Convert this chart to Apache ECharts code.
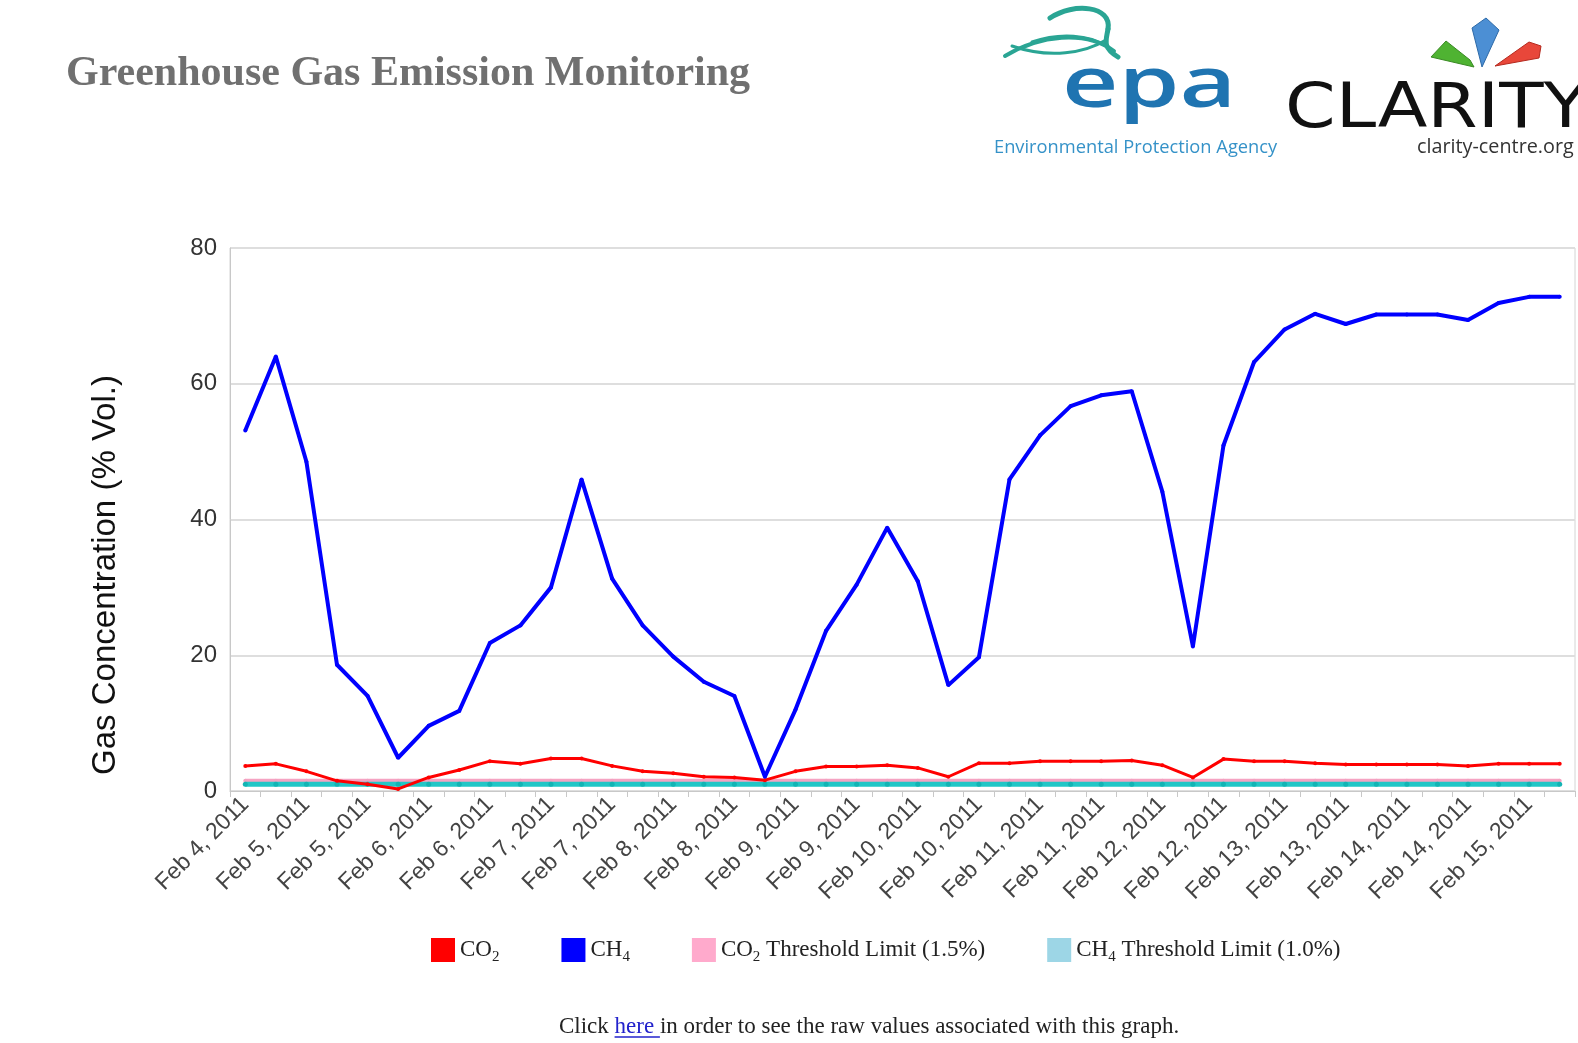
<!DOCTYPE html>
<html>
<head>
<meta charset="utf-8">
<script src="https://cdn.jsdelivr.net/npm/echarts@6/dist/echarts.min.js"></script>
<style>
html,body{margin:0;padding:0;background:#fff;}
#chart{width:1578px;height:1043px;}
</style>
</head>
<body>
<div id="chart"></div>
<script>
// ---- data ----
const categories = [
  'Feb 4, 2011 18:00','Feb 5, 2011 00:00','Feb 5, 2011 06:00','Feb 5, 2011 12:00','Feb 5, 2011 18:00',
  'Feb 6, 2011 00:00','Feb 6, 2011 06:00','Feb 6, 2011 12:00','Feb 6, 2011 18:00',
  'Feb 7, 2011 00:00','Feb 7, 2011 06:00','Feb 7, 2011 12:00','Feb 7, 2011 18:00',
  'Feb 8, 2011 00:00','Feb 8, 2011 06:00','Feb 8, 2011 12:00','Feb 8, 2011 18:00',
  'Feb 9, 2011 00:00','Feb 9, 2011 06:00','Feb 9, 2011 12:00','Feb 9, 2011 18:00',
  'Feb 10, 2011 00:00','Feb 10, 2011 06:00','Feb 10, 2011 12:00','Feb 10, 2011 18:00',
  'Feb 11, 2011 00:00','Feb 11, 2011 06:00','Feb 11, 2011 12:00','Feb 11, 2011 18:00',
  'Feb 12, 2011 00:00','Feb 12, 2011 06:00','Feb 12, 2011 12:00','Feb 12, 2011 18:00',
  'Feb 13, 2011 00:00','Feb 13, 2011 06:00','Feb 13, 2011 12:00','Feb 13, 2011 18:00',
  'Feb 14, 2011 00:00','Feb 14, 2011 06:00','Feb 14, 2011 12:00','Feb 14, 2011 18:00',
  'Feb 15, 2011 00:00','Feb 15, 2011 06:00','Feb 15, 2011 12:00'
];
const co2Values = [3.7,4.0,2.9,1.5,1.0,0.3,2.0,3.1,4.4,4.0,4.8,4.8,3.7,2.9,2.6,2.1,2.0,1.6,2.9,3.6,3.6,3.8,3.4,2.1,4.1,4.1,4.4,4.4,4.4,4.5,3.8,2.0,4.7,4.4,4.4,4.1,3.9,3.9,3.9,3.9,3.7,4.0,4.0,4.0];
const ch4Values = [53.1,64.0,48.5,18.6,14.0,4.9,9.6,11.8,21.8,24.4,30.0,45.9,31.3,24.4,19.8,16.1,14.0,2.1,12.0,23.6,30.4,38.8,30.9,15.6,19.7,45.9,52.4,56.7,58.3,58.9,44.1,21.3,50.9,63.2,68.0,70.3,68.8,70.2,70.2,70.2,69.4,71.9,72.8,72.8];
const co2Threshold = [1.5,1.5,1.5,1.5,1.5,1.5,1.5,1.5,1.5,1.5,1.5,1.5,1.5,1.5,1.5,1.5,1.5,1.5,1.5,1.5,1.5,1.5,1.5,1.5,1.5,1.5,1.5,1.5,1.5,1.5,1.5,1.5,1.5,1.5,1.5,1.5,1.5,1.5,1.5,1.5,1.5,1.5,1.5,1.5];
const ch4Threshold = [1.0,1.0,1.0,1.0,1.0,1.0,1.0,1.0,1.0,1.0,1.0,1.0,1.0,1.0,1.0,1.0,1.0,1.0,1.0,1.0,1.0,1.0,1.0,1.0,1.0,1.0,1.0,1.0,1.0,1.0,1.0,1.0,1.0,1.0,1.0,1.0,1.0,1.0,1.0,1.0,1.0,1.0,1.0,1.0];
const yTicks = {min: 0, max: 80, interval: 20};
const seriesNames = ['CO2', 'CH4', 'CO2 Threshold Limit (1.5%)', 'CH4 Threshold Limit (1.0%)'];
const legendLabels = {
  'CO2': '{n|CO}{s|2}',
  'CH4': '{n|CH}{s|4}',
  'CO2 Threshold Limit (1.5%)': '{n|CO}{s|2}{n| Threshold Limit (1.5%)}',
  'CH4 Threshold Limit (1.0%)': '{n|CH}{s|4}{n| Threshold Limit (1.0%)}'
};

// footer underline measurement
const mctx = document.createElement('canvas').getContext('2d');
mctx.font = '23px "Liberation Serif"';
const footX = 559;
const wClick = mctx.measureText('Click ').width;
const wHere = mctx.measureText('here ').width;

function curve(x1, y1, c1x, c1y, c2x, c2y, x2, y2, w) {
  return {type: 'bezierCurve',
    shape: {x1: x1, y1: y1, cpx1: c1x, cpy1: c1y, cpx2: c2x, cpy2: c2y, x2: x2, y2: y2},
    style: {stroke: '#2aa594', lineWidth: w, fill: null, lineCap: 'round'}};
}

const chart = echarts.init(document.getElementById('chart'), null, {renderer: 'canvas'});
const option = {
  animation: false,
  backgroundColor: '#ffffff',
  grid: {left: 230, right: 3, top: 248, bottom: 252, show: true, borderColor: '#d4d4d4', borderWidth: 1},
  legend: {
    left: 426, top: 933,
    icon: 'rect', itemWidth: 24, itemHeight: 24, itemGap: 62,
    selectedMode: false,
    data: [
      {name: seriesNames[0], itemStyle: {color: '#ff0000'}},
      {name: seriesNames[1], itemStyle: {color: '#0000ff'}},
      {name: seriesNames[2], itemStyle: {color: '#ffaacc'}},
      {name: seriesNames[3], itemStyle: {color: '#9dd6e6'}}
    ],
    formatter: function (name) { return legendLabels[name]; },
    textStyle: {
      color: '#222',
      rich: {
        n: {fontFamily: 'Liberation Serif', fontSize: 23, color: '#222'},
        s: {fontFamily: 'Liberation Serif', fontSize: 15, color: '#222', padding: [14, 0, 0, 0]}
      }
    }
  },
  xAxis: {
    type: 'category',
    data: categories,
    boundaryGap: true,
    axisLine: {show: true, lineStyle: {color: '#c8c8c8', width: 1}},
    axisTick: {show: true, interval: 0, length: 6, lineStyle: {color: '#c8c8c8'}},
    axisLabel: {
      interval: 1, rotate: 45, fontSize: 23, fontFamily: 'Liberation Sans', color: '#444', margin: 10,
      formatter: function (v) { return v.replace(/ \d\d:\d\d$/, ''); }
    },
    splitLine: {show: false}
  },
  yAxis: {
    type: 'value',
    min: yTicks.min, max: yTicks.max, interval: yTicks.interval,
    axisLine: {show: true, lineStyle: {color: '#c8c8c8'}},
    axisTick: {show: false},
    axisLabel: {fontSize: 24, fontFamily: 'Liberation Sans', color: '#333', margin: 13},
    splitLine: {show: true, lineStyle: {color: '#dedede', width: 2}}
  },
  series: [
    {name: seriesNames[2], type: 'line', data: co2Threshold, symbol: 'circle', symbolSize: 4,
     itemStyle: {color: '#f2a2c0'}, lineStyle: {color: '#f5a3c2', width: 4}, z: 2},
    {name: seriesNames[3], type: 'line', data: ch4Threshold, symbol: 'circle', symbolSize: 5,
     itemStyle: {color: '#12b4b4'}, lineStyle: {color: '#22c6c6', width: 5}, z: 3},
    {name: seriesNames[0], type: 'line', data: co2Values, symbol: 'circle', symbolSize: 4,
     itemStyle: {color: '#ff0000'}, lineStyle: {color: '#ff0000', width: 3}, z: 4},
    {name: seriesNames[1], type: 'line', data: ch4Values, symbol: 'circle', symbolSize: 4,
     itemStyle: {color: '#0000ff'}, lineStyle: {color: '#0000ff', width: 4}, z: 5}
  ],
  graphic: [
    // page title
    {type: 'text', x: 66, y: 74, style: {text: 'Greenhouse Gas Emission Monitoring', fontFamily: 'Liberation Serif',
      fontWeight: 'bold', fontSize: 42, fill: '#707070', align: 'left', verticalAlign: 'middle'}},
    // EPA logo swoosh
    curve(1050, 18, 1074, 2, 1112, 6, 1108, 29, 5),
    curve(1108, 29, 1106, 41, 1102, 47, 1118, 57, 5),
    curve(1005, 56, 1040, 35, 1085, 30, 1114, 51, 4),
    curve(1012, 46, 1050, 59, 1085, 53, 1106, 40, 3),
    curve(1032, 42, 1060, 32, 1090, 35, 1106, 46, 3),
    {type: 'text', x: 1062, y: 87, scaleX: 1.38, style: {text: 'epa', fontFamily: 'Open Sans', fontWeight: 600, fontSize: 71,
      fill: '#1f74b1', align: 'left', verticalAlign: 'middle'}},
    {type: 'text', x: 994, y: 148, style: {text: 'Environmental Protection Agency', fontFamily: 'Open Sans',
      fontSize: 18.3, fill: '#3592c8', align: 'left', verticalAlign: 'middle'}},
    // CLARITY logo
    {type: 'polygon', shape: {points: [[1431, 57], [1446, 41], [1470, 60], [1474, 67]]},
     style: {fill: '#4fb332', stroke: '#3a8a24', lineWidth: 1}},
    {type: 'polygon', shape: {points: [[1472, 28], [1486, 18], [1499, 30], [1482, 67]]},
     style: {fill: '#4c8fd4', stroke: '#2e6aa8', lineWidth: 1}},
    {type: 'polygon', shape: {points: [[1495, 66], [1529, 42], [1541, 46], [1539, 58]]},
     style: {fill: '#e8473a', stroke: '#b52a1f', lineWidth: 1}},
    {type: 'text', x: 1285, y: 111, scaleX: 1.17, style: {text: 'CLARITY', fontFamily: 'DejaVu Sans', fontSize: 62,
      fill: '#111', align: 'left', verticalAlign: 'middle'}},
    {type: 'text', x: 1417, y: 147, style: {text: 'clarity-centre.org', fontFamily: 'Open Sans', fontSize: 19.8,
      fill: '#333', align: 'left', verticalAlign: 'middle'}},
    // y axis name
    {type: 'text', x: 106, y: 575, rotation: Math.PI / 2, style: {text: 'Gas Concentration (% Vol.)',
      fontFamily: 'Liberation Sans', fontSize: 33, fill: '#111', align: 'center', verticalAlign: 'middle'}},
    // footer
    {type: 'text', x: footX, y: 1027, style: {text: '{a|Click }{l|here }{a|in order to see the raw values associated with this graph.}',
      align: 'left', verticalAlign: 'middle',
      rich: {a: {fontFamily: 'Liberation Serif', fontSize: 23, fill: '#222', color: '#222'},
             l: {fontFamily: 'Liberation Serif', fontSize: 23, fill: '#2222cc', color: '#2222cc'}}}},
    {type: 'line', shape: {x1: footX + wClick, y1: 1037, x2: footX + wClick + wHere, y2: 1037},
     style: {stroke: '#2222cc', lineWidth: 1.5}}
  ]
};
chart.setOption(option);
</script>
</body>
</html>
